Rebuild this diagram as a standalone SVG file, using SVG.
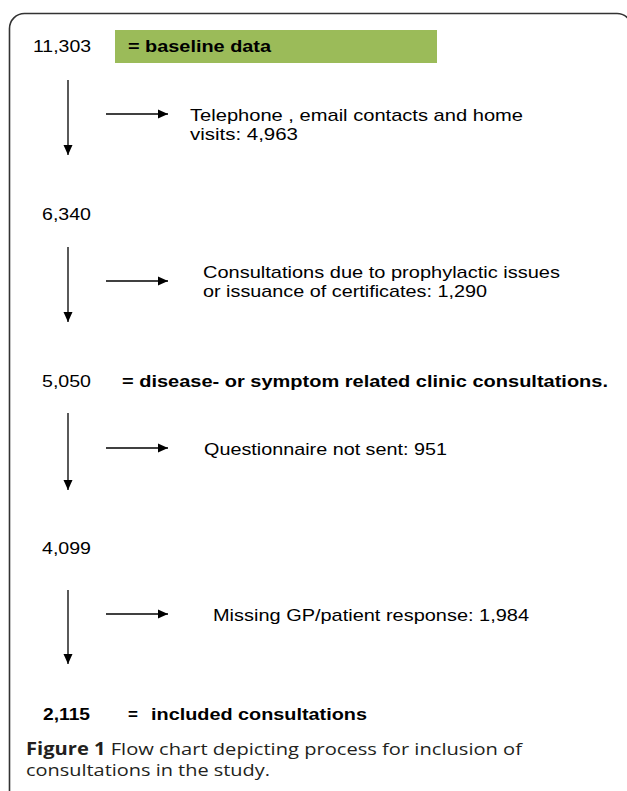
<svg xmlns="http://www.w3.org/2000/svg" width="627" height="791" viewBox="0 0 627 791">
<style>
.t{font-family:"Liberation Sans",Arial,sans-serif;font-size:17px;fill:#000}
.b{font-weight:bold}
.cap{font-family:"Open Sans","Noto Sans",sans-serif;font-size:17px;fill:#231f20}
.ln{stroke:#000;stroke-width:1.3;fill:none}
.bd{stroke:#333;stroke-width:1.6;fill:none}
</style>
<defs>
<marker id="ah" viewBox="0 0 10 10" refX="10" refY="5" markerWidth="10" markerHeight="10" markerUnits="userSpaceOnUse" orient="auto">
<path d="M0,0.5 L10,5 L0,9.5 z" fill="#000"/>
</marker>
</defs>
<rect x="0" y="0" width="627" height="791" fill="#fff"/>
<path class="bd" d="M9.5,791 V28.5 A15,15 0 0 1 24.5,13.5 H617 A15,15 0 0 1 632,28.5"/>
<g id="n1">
<text class="t" x="33" y="52" textLength="58" lengthAdjust="spacingAndGlyphs">11,303</text>
<rect x="115" y="30" width="322" height="33" fill="#9bbb59"/>
<text class="t b" x="128" y="52" textLength="143" lengthAdjust="spacingAndGlyphs">= baseline data</text>
</g>
<g id="n2">
<text class="t" x="190" y="121" textLength="333" lengthAdjust="spacingAndGlyphs">Telephone , email contacts and home</text>
<text class="t" x="190" y="140" textLength="108" lengthAdjust="spacingAndGlyphs">visits: 4,963</text>
</g>
<g id="n3"><text class="t" x="42" y="220" textLength="49" lengthAdjust="spacingAndGlyphs">6,340</text></g>
<g id="n4">
<text class="t" x="203" y="278" textLength="357" lengthAdjust="spacingAndGlyphs">Consultations due to prophylactic issues</text>
<text class="t" x="203" y="297" textLength="284" lengthAdjust="spacingAndGlyphs">or issuance of certificates: 1,290</text>
</g>
<g id="n5">
<text class="t" x="42" y="387" textLength="49" lengthAdjust="spacingAndGlyphs">5,050</text>
<text class="t b" x="122" y="387" textLength="486" lengthAdjust="spacingAndGlyphs">= disease- or symptom related clinic consultations.</text>
</g>
<g id="n6"><text class="t" x="204" y="455" textLength="243" lengthAdjust="spacingAndGlyphs">Questionnaire not sent: 951</text></g>
<g id="n7"><text class="t" x="42" y="554" textLength="49" lengthAdjust="spacingAndGlyphs">4,099</text></g>
<g id="n8"><text class="t" x="213" y="621" textLength="316" lengthAdjust="spacingAndGlyphs">Missing GP/patient response: 1,984</text></g>
<g id="n9">
<text class="t b" x="43" y="720" textLength="47" lengthAdjust="spacingAndGlyphs">2,115</text>
<text class="t b" x="128" y="720">=</text>
<text class="t b" x="151" y="720" textLength="216" lengthAdjust="spacingAndGlyphs">included consultations</text>
</g>
<g id="caption">
<text class="cap" x="26" y="755" textLength="496" lengthAdjust="spacingAndGlyphs"><tspan font-weight="bold">Figure 1</tspan> Flow chart depicting process for inclusion of</text>
<text class="cap" x="26" y="776" textLength="244" lengthAdjust="spacingAndGlyphs">consultations in the study.</text>
</g>
<g id="connectors">
<line class="ln" x1="68" y1="80" x2="68" y2="155" marker-end="url(#ah)"/>
<line class="ln" x1="106" y1="114" x2="168" y2="114" marker-end="url(#ah)"/>
<line class="ln" x1="68" y1="247" x2="68" y2="322" marker-end="url(#ah)"/>
<line class="ln" x1="106" y1="281" x2="168" y2="281" marker-end="url(#ah)"/>
<line class="ln" x1="68" y1="413" x2="68" y2="490" marker-end="url(#ah)"/>
<line class="ln" x1="106" y1="448" x2="168" y2="448" marker-end="url(#ah)"/>
<line class="ln" x1="68" y1="590" x2="68" y2="664" marker-end="url(#ah)"/>
<line class="ln" x1="106" y1="614" x2="168" y2="614" marker-end="url(#ah)"/>
</g>
</svg>
